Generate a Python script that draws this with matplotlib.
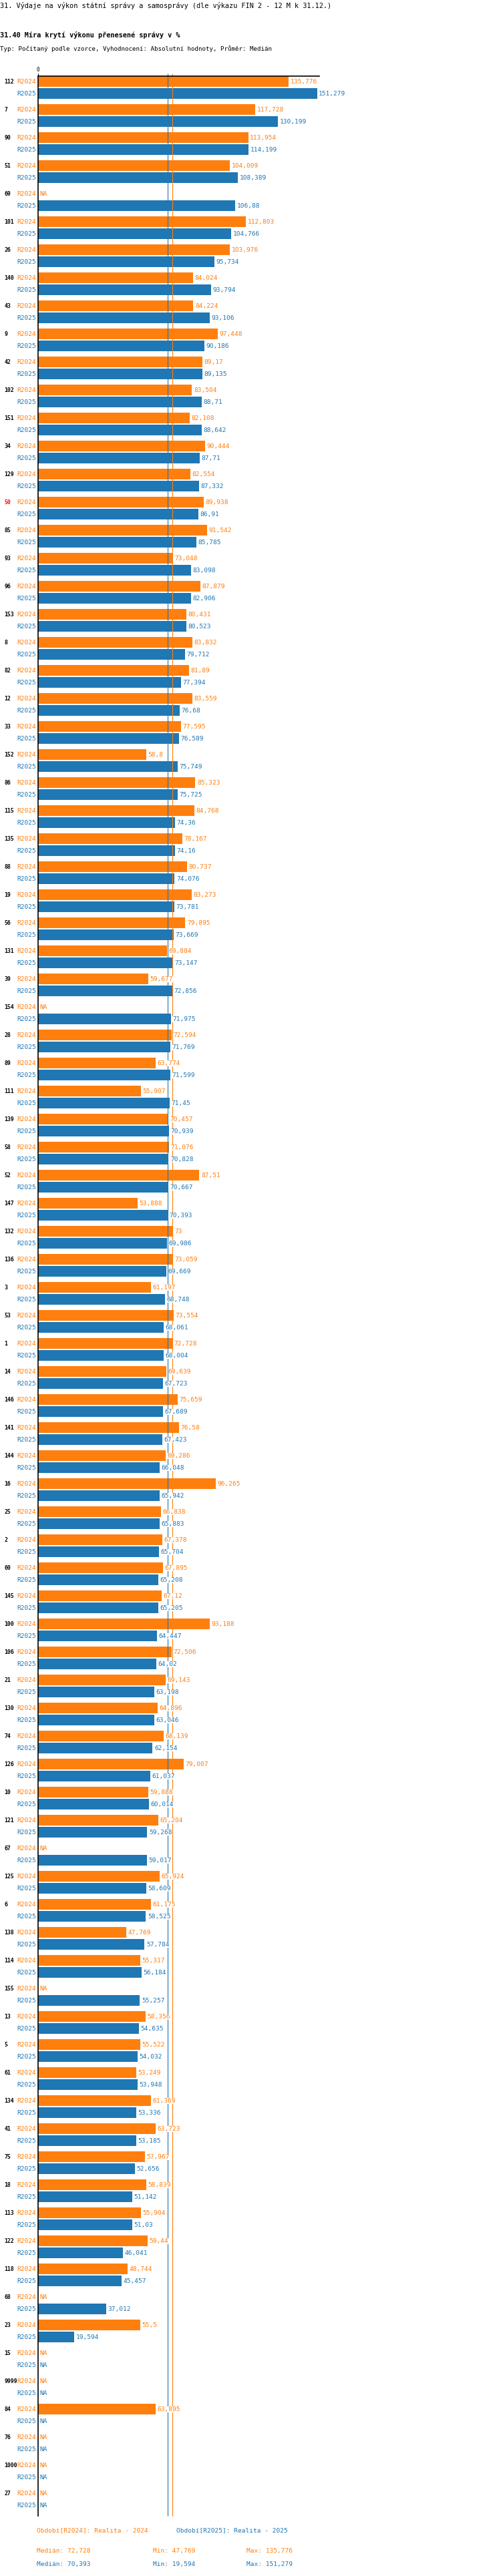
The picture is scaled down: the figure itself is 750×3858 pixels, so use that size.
import numpy as np
import matplotlib
matplotlib.use('Agg')
import matplotlib.pyplot as plt
from matplotlib.transforms import blended_transform_factory

NA = np.nan

# data (sorted as in the original, by R2025 descending)
categories = ['112', '7', '90', '51', '69', '101', '26', '140', '43', '9',
              '42', '102', '151', '34', '129', '50', '85', '93', '96', '153',
              '8', '82', '12', '33', '152', '86', '115', '135', '88', '19',
              '56', '131', '39', '154', '28', '89', '111', '139', '58', '52',
              '147', '132', '136', '3', '53', '1', '14', '146', '141', '144',
              '16', '25', '2', '60', '145', '100', '106', '21', '130', '74',
              '126', '10', '121', '67', '125', '6', '138', '114', '155', '13',
              '5', '61', '134', '41', '75', '18', '113', '122', '118', '68',
              '23', '15', '9999', '84', '76', '1000', '27']
r2024 = [135.776, 117.728, 113.954, 104.009, NA, 112.803, 103.976, 84.024, 84.224, 97.448,
         89.17, 83.504, 82.108, 90.444, 82.554, 89.938, 91.542, 73.048, 87.879, 80.431,
         83.832, 81.89, 83.559, 77.595, 58.8, 85.323, 84.768, 78.167, 80.737, 83.273,
         79.895, 69.884, 59.677, NA, 72.594, 63.774, 55.907, 70.457, 71.076, 87.51,
         53.888, 73.0, 73.059, 61.197, 73.554, 72.728, 69.639, 75.659, 76.58, 69.286,
         96.265, 66.838, 67.378, 67.895, 67.12, 93.188, 72.506, 69.143, 64.896, 68.139,
         79.007, 59.888, 65.204, NA, 65.924, 61.175, 47.769, 55.317, NA, 58.356,
         55.522, 53.249, 61.369, 63.723, 57.967, 58.839, 55.904, 59.44, 48.744, NA,
         55.5, NA, NA, 63.895, NA, NA, NA]
r2025 = [151.279, 130.199, 114.199, 108.389, 106.88, 104.766, 95.734, 93.794, 93.106, 90.186,
         89.135, 88.71, 88.642, 87.71, 87.332, 86.91, 85.785, 83.098, 82.906, 80.523,
         79.712, 77.394, 76.68, 76.589, 75.749, 75.725, 74.36, 74.16, 74.076, 73.781,
         73.669, 73.147, 72.856, 71.975, 71.769, 71.599, 71.45, 70.939, 70.828, 70.667,
         70.393, 69.986, 69.669, 68.748, 68.061, 68.004, 67.723, 67.689, 67.423, 66.048,
         65.942, 65.883, 65.704, 65.208, 65.205, 64.447, 64.02, 63.198, 63.046, 62.154,
         61.037, 60.014, 59.268, 59.017, 58.609, 58.525, 57.784, 56.184, 55.257, 54.635,
         54.032, 53.948, 53.336, 53.185, 52.656, 51.142, 51.03, 46.041, 45.457, 37.012,
         19.594, NA, NA, NA, NA, NA, NA]
highlight = '50'
series_names = ['R2024', 'R2025']
period_labels = ['Období[R2024]: Realita - 2024', 'Období[R2025]: Realita - 2025']

ORANGE = '#ff7f0e'
BLUE = '#1f77b4'
MONO = 'DejaVu Sans Mono'
SMALL = ['Liberation Sans Narrow', 'DejaVu Sans Mono']

W, H = 750, 3858
fig = plt.figure(figsize=(W / 100, H / 100), dpi=100)


def fx(px):
    return px / W


def fy(py):
    return 1 - py / H


def fmt(v):
    return ('%.3f' % v).rstrip('0').rstrip('.').replace('.', ',')


left_px, right_px, top_px, bottom_px = 56.7, 478, 114.3, 3768.3
ax = fig.add_axes([fx(left_px), fy(bottom_px), (right_px - left_px) / W,
                   (bottom_px - top_px) / H])

n = len(categories)
idx = np.arange(n)
v24 = np.array(r2024, dtype=float)
v25 = np.array(r2025, dtype=float)
bh = 16 / 42
y24 = idx + 8 / 42
y25 = idx + 26 / 42

m24 = ~np.isnan(v24)
m25 = ~np.isnan(v25)
ax.barh(y24[m24], v24[m24], height=bh, color=ORANGE, zorder=2)
ax.barh(y25[m25], v25[m25], height=bh, color=BLUE, zorder=2)

ax.set_xlim(0, (right_px - left_px) / 2.763)
ax.set_ylim(n, 0)

med24, med25 = np.nanmedian(v24), np.nanmedian(v25)
ax.vlines(med25, n, -4 / 42, color=BLUE, lw=0.8, clip_on=False, zorder=3)
ax.vlines(med24, n, -4 / 42, color=ORANGE, lw=0.8, clip_on=False, zorder=3)

for s in ['right', 'bottom']:
    ax.spines[s].set_visible(False)
for s in ['top', 'left']:
    ax.spines[s].set_color('black')
    ax.spines[s].set_linewidth(1.2)
    ax.spines[s].set_zorder(5)
ax.xaxis.tick_top()
ax.set_xticks([0])
ax.set_xticklabels(['0'], fontfamily=MONO, fontsize=5.5)
ax.tick_params(axis='x', length=3, width=0.8, pad=1)
ax.set_yticks([])

trans = blended_transform_factory(fig.transFigure, ax.transData)
for i, cat in enumerate(categories):
    ax.text(fx(6.7), y24[i], cat, transform=trans, va='center', ha='left',
            fontfamily=MONO, fontweight='bold', fontsize=5.9,
            color='red' if cat == highlight else 'black')
    for yy, vals, col, name in [(y24[i], v24, ORANGE, series_names[0]),
                                (y25[i], v25, BLUE, series_names[1])]:
        ax.text(fx(54.5), yy, name, transform=trans, va='center', ha='right',
                fontfamily=SMALL, fontsize=6.8, color=col)
        v = vals[i]
        if np.isnan(v):
            ax.annotate('NA', xy=(0, yy), xytext=(1.8, 0), textcoords='offset points',
                        va='center', ha='left', fontfamily=SMALL, fontsize=6.8,
                        color=col, zorder=6)
        else:
            ax.annotate(fmt(v), xy=(v, yy), xytext=(1.8, 0), textcoords='offset points',
                        va='center', ha='left', fontfamily=SMALL, fontsize=6.8,
                        color=col, zorder=6, annotation_clip=False,
                        bbox=dict(boxstyle='square,pad=0', fc='white', ec='none'))

# headings
fig.text(0, fy(8.5), '31. Výdaje na výkon státní správy a samosprávy (dle výkazu FIN 2 - 12 M k 31.12.)',
         fontfamily=MONO, fontsize=7.4, va='center', ha='left')
fig.text(0, fy(52), '31.40 Míra krytí výkonu přenesené správy v %',
         fontfamily=MONO, fontsize=7.4, fontweight='bold', va='center', ha='left')
fig.text(0, fy(73), 'Typ: Počítaný podle vzorce, Vyhodnocení: Absolutní hodnoty, Průměr: Medián',
         fontfamily=SMALL, fontsize=6.6, va='center', ha='left')

# footer
fig.text(fx(55.3), fy(3790), period_labels[0], color=ORANGE, fontfamily=SMALL,
         fontsize=6.8, va='center', ha='left')
fig.text(fx(264), fy(3790), period_labels[1], color=BLUE, fontfamily=SMALL,
         fontsize=6.8, va='center', ha='left')
for yy, vals, col in [(3820, v24, ORANGE), (3840, v25, BLUE)]:
    fig.text(fx(55.3), fy(yy), 'Medián: ' + fmt(np.nanmedian(vals)), color=col,
             fontfamily=SMALL, fontsize=6.8, va='center', ha='left')
    fig.text(fx(229.3), fy(yy), 'Min: ' + fmt(np.nanmin(vals)), color=col,
             fontfamily=SMALL, fontsize=6.8, va='center', ha='left')
    fig.text(fx(368.7), fy(yy), 'Max: ' + fmt(np.nanmax(vals)), color=col,
             fontfamily=SMALL, fontsize=6.8, va='center', ha='left')

fig.savefig('out.png', dpi=100)
